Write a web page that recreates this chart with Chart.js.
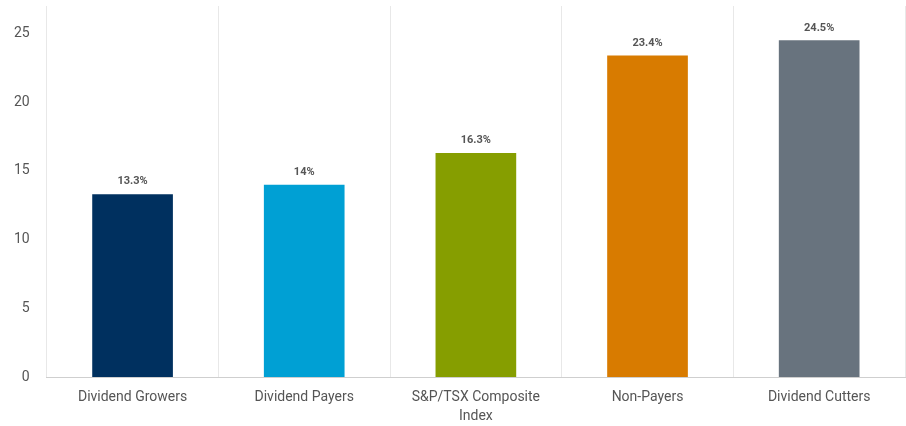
<!DOCTYPE html>
<html>
<head>
<meta charset="utf-8">
<script src="https://cdn.jsdelivr.net/npm/chart.js@4"></script>
<style>
  html, body { margin: 0; padding: 0; background: #fff; }
  #wrap { width: 906px; height: 426px; }
</style>
</head>
<body>
<div id="wrap"><canvas id="chart"></canvas></div>
<script>
'use strict';

// Data
const categories = ['Dividend Growers', 'Dividend Payers', ['S&P/TSX Composite', 'Index'], 'Non-Payers', 'Dividend Cutters'];
const returns = [13.3, 14, 16.3, 23.4, 24.5];
const barColors = ['#00305f', '#00a0d4', '#869e00', '#d87b00', '#68737e'];
const yTicks = [0, 5, 10, 15, 20, 25];

// Value labels above the bars
const valueLabels = {
    id: 'valueLabels',
    afterDatasetsDraw(chart) {
        const ctx = chart.ctx;
        const meta = chart.getDatasetMeta(0);
        ctx.save();
        ctx.font = 'bold 11px Roboto';
        ctx.fillStyle = '#555';
        ctx.textAlign = 'center';
        ctx.textBaseline = 'bottom';
        meta.data.forEach((bar, i) => {
            ctx.fillText(returns[i] + '%', bar.x, bar.y - 7);
        });
        ctx.restore();
    }
};

new Chart(document.getElementById('chart'), {
    type: 'bar',
    data: {
        labels: categories,
        datasets: [{
            data: returns,
            backgroundColor: barColors,
            categoryPercentage: 1,
            barPercentage: 0.47
        }]
    },
    options: {
        responsive: true,
        maintainAspectRatio: false,
        animation: false,
        layout: { padding: { top: 6, right: 1, left: 5, bottom: 0 } },
        scales: {
            x: {
                grid: { color: '#e8e8e8', drawTicks: false, offset: true },
                border: { color: '#cfcfcf', width: 1 },
                afterFit: axis => { axis.height = 49; },
                ticks: {
                    color: '#555',
                    padding: 11,
                    maxRotation: 0,
                    font: { family: 'Roboto', size: 14, lineHeight: 1.35 }
                }
            },
            y: {
                min: 0,
                max: 27,
                afterBuildTicks: axis => { axis.ticks = yTicks.map(v => ({ value: v })); },
                afterFit: axis => { axis.paddingTop = 0; },
                grid: { display: false },
                border: { display: false },
                ticks: {
                    color: '#555',
                    padding: 9,
                    font: { family: 'Roboto', size: 14 }
                }
            }
        },
        plugins: {
            legend: { display: false },
            tooltip: { enabled: false }
        }
    },
    plugins: [valueLabels]
});
</script>
</body>
</html>
